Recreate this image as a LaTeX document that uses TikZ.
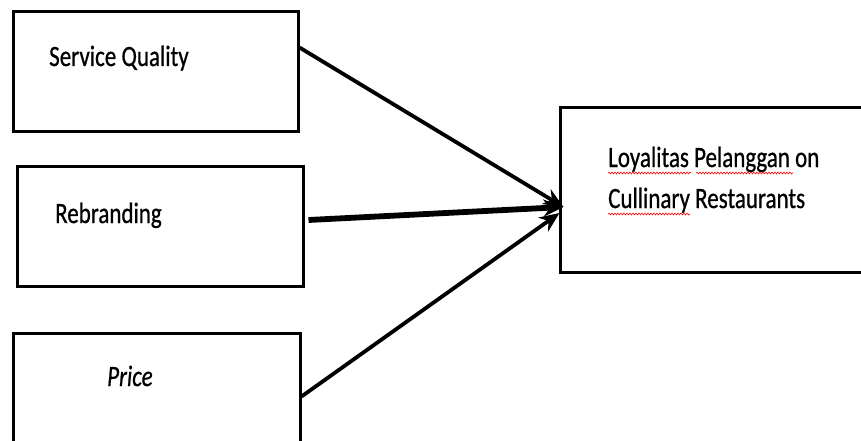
\documentclass[tikz,border=0pt]{standalone}
\usepackage{fontspec}
\setmainfont{Carlito}
\newfontfamily\diagfont{Carlito}[FakeBold=0.8]
\usepackage{tikz}
\usetikzlibrary{arrows.meta,positioning,decorations.pathmorphing}
\newcommand{\tall}[1]{\scalebox{1}[1.28]{#1}}

\begin{document}
\begin{tikzpicture}[
    x=1pt, y=-1pt,
    font=\diagfont\fontsize{23}{41}\selectfont,
    box/.style={draw, line width=3pt, rectangle, inner sep=0pt},
    lbl/.style={anchor=base west, inner sep=0pt, align=left},
    arrow/.style={-{Stealth[length=20pt,width=17pt]}, line width=3.8pt},
    spell/.style={red, line width=0.6pt, decorate, decoration={snake, amplitude=0.9pt, segment length=3pt}}
]
\clip (0,0) rectangle (861,441);
\fill[white] (0,0) rectangle (861,441);

\node[box, minimum width=285pt, minimum height=119pt] (service) at (155.5,71.5) {};
\node[box, minimum width=286pt, minimum height=120pt] (rebrand) at (160,226) {};
\node[box, minimum width=287pt, minimum height=127pt] (price) at (156.5,396.5) {};
\node[box, minimum width=315pt, minimum height=164pt] (loyal) at (717.5,190) {};

\node[lbl] (servicetxt) at (49,66) {\tall{Service Quality}};
\node[lbl] (rebrandtxt) at (55,223) {\tall{Rebranding}};
\node[lbl] (pricetxt) at (107,386) {\tall{\itshape Price}};
\node[lbl] (loyaltxt) at (608,208) {\tall{Loyalitas Pelanggan on}\\\tall{Cullinary Restaurants}};

% spelling marks
\draw[spell] (608,173) -- (691,173);
\draw[spell] (696,173) -- (793,173);
\draw[spell] (608,214) -- (690,214);

\coordinate (hub) at ([shift={(5pt,-17pt)}]loyal.west);

\draw[arrow] ([yshift=24pt]service.east) -- (hub);
\draw[arrow, line width=5.8pt] ([shift={(4pt,6pt)}]rebrand.east) -- (hub);
\draw[arrow] (price.east) -- ([shift={(-4pt,-6pt)}]hub);
\end{tikzpicture}
\end{document}
